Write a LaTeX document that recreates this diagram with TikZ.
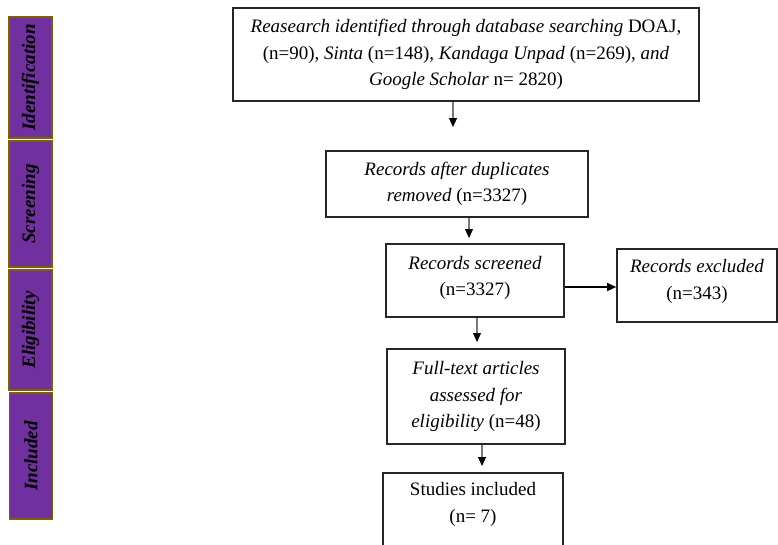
\documentclass[tikz,border=0pt]{standalone}
\usepackage{fontspec}
\setmainfont{Liberation Serif}
\usetikzlibrary{arrows.meta}
\definecolor{phasefill}{HTML}{7030A0}
\definecolor{phaseedge}{HTML}{7F6000}
\definecolor{conngray}{HTML}{7A7A7A}
\begin{document}
\begin{tikzpicture}[x=1pt,y=-1pt,
  box/.style={draw=black!85,line width=1.6pt,align=center,inner sep=0pt,
    font=\fontsize{19}{26.5}\selectfont},
  phase/.style={draw=phaseedge,line width=1.6pt,fill=phasefill,rotate=90,
    minimum height=43pt,inner sep=0pt,
    font=\fontsize{19}{22}\selectfont\bfseries\itshape},
  tip/.style={-{Triangle[width=8pt,length=9pt,color=black,fill=black]}},
  vconn/.style={tip,draw=conngray,line width=1.2pt},
  hconn/.style={tip,draw=black,line width=1.2pt}]
\useasboundingbox (0,0) rectangle (778,544);
\clip (0,0) rectangle (778,544);
\fill[white] (0,0) rectangle (778,544);
% phase bars
\node[phase,minimum width=121pt] (ph1) at (30.5,77.5) {Identification};
\node[phase,minimum width=126pt] (ph2) at (30.5,204) {Screening};
\node[phase,minimum width=120pt] (ph3) at (30.5,330) {Eligibility};
\node[phase,minimum width=126pt] (ph4) at (31,456) {Included};
% boxes
\node[box,minimum width=466pt,minimum height=93pt] (b1) at (466,54.5)
  {\textit{Reasearch identified through database searching} DOAJ,\\
   (n=90), \textit{Sinta} (n=148), \textit{Kandaga Unpad} (n=269), \textit{and}\\
   \textit{Google Scholar} n= 2820)};
\node[box,minimum width=262pt,minimum height=66pt] (b2) at (457,184)
  {\textit{Records after duplicates}\\ \textit{removed} (n=3327)};
\node[box,minimum width=178pt,minimum height=73pt,text depth=9pt] (b3) at (475,280.5)
  {\textit{Records screened}\\(n=3327)};
\node[box,minimum width=160pt,minimum height=73pt,text depth=12pt] (b4) at (697,285.5)
  {\textit{Records excluded}\\(n=343)};
\node[box,minimum width=178pt,minimum height=95pt] (b5) at (476,396.5)
  {\textit{Full-text articles}\\ \textit{assessed for}\\ \textit{eligibility} (n=48)};
\node[box,minimum width=180pt,minimum height=75pt,text depth=16pt] (b6) at (473,510.5)
  {Studies included\\(n= 7)};
% connector ends
\coordinate (e1) at (453,127);
\coordinate (e2) at (469,238);
\coordinate (h3) at (590,287);
\coordinate (e4) at (477,342);
\coordinate (e5) at (482,466);
\draw[vconn] (b1.south -| e1) -- (e1);
\draw[vconn] (b2.south -| e2) -- (e2);
\draw[hconn] (b3.east |- h3) -- (b4.west |- h3);
\draw[vconn] (b3.south -| e4) -- (e4);
\draw[vconn] (b5.south -| e5) -- (e5);
\end{tikzpicture}
\end{document}
